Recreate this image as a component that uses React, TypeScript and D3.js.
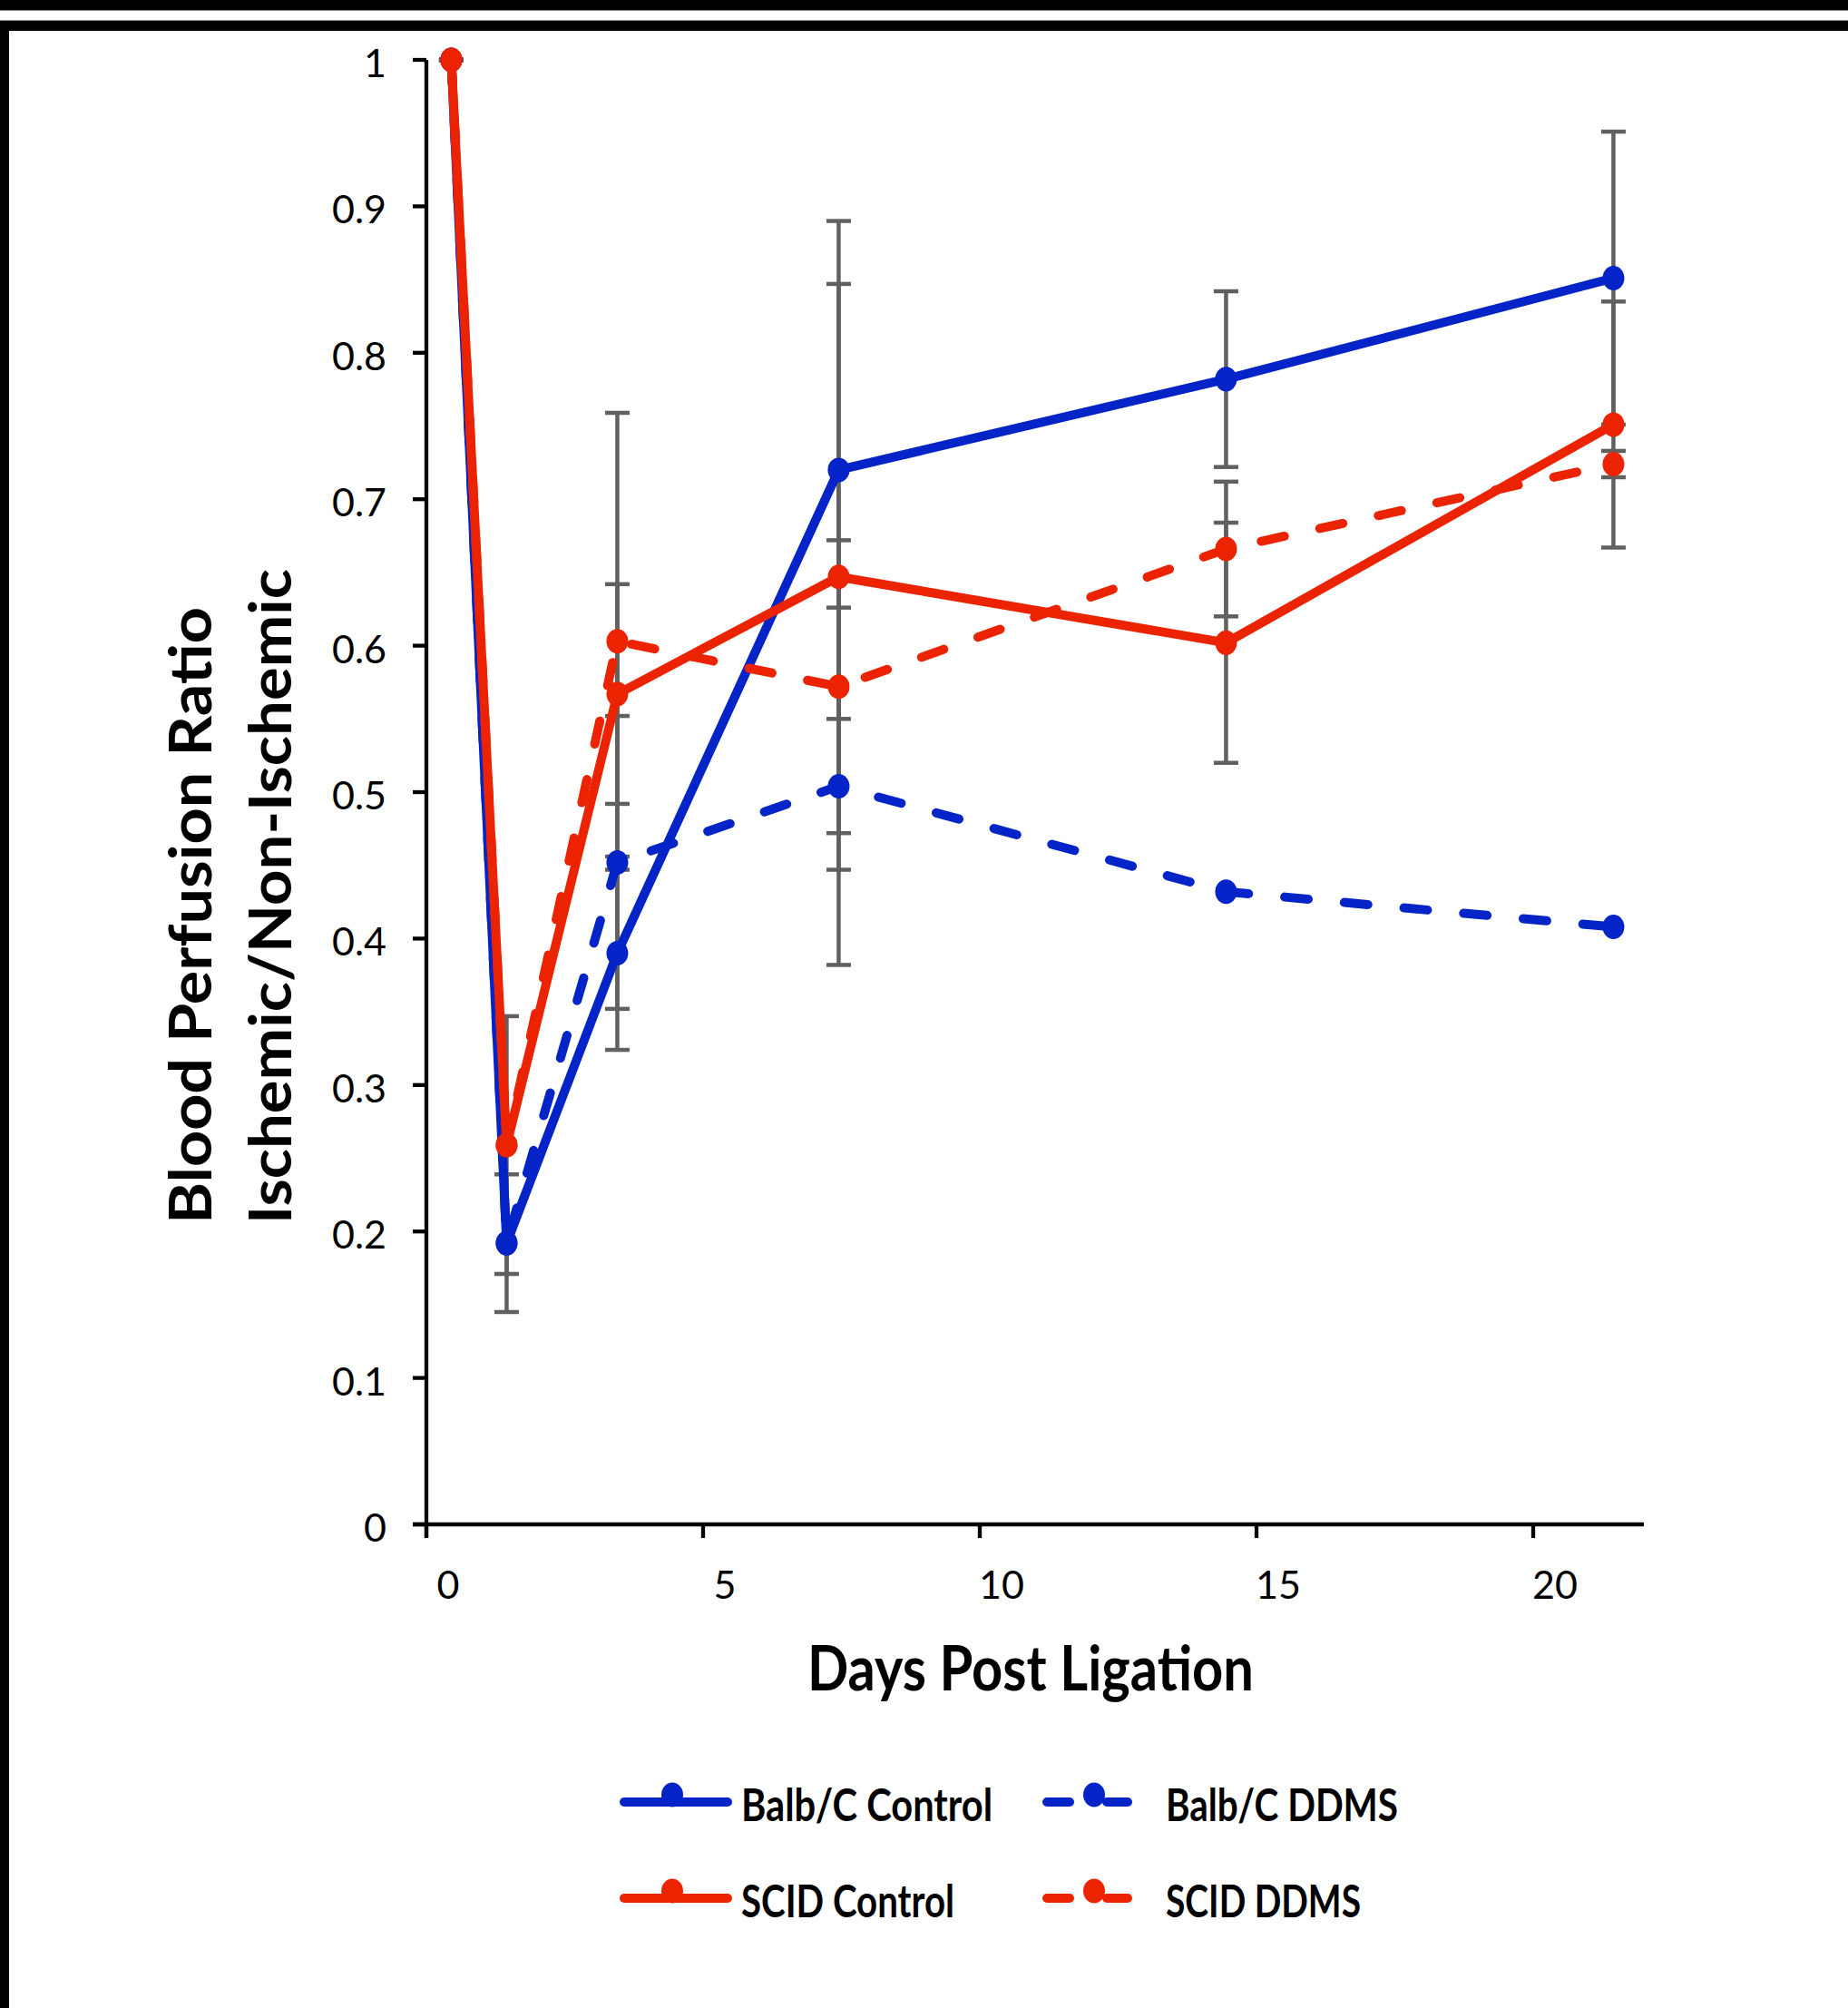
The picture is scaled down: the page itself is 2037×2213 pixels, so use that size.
import React from "react";
import * as d3 from "d3";

// ---- data ----
const days = [0.45, 1.45, 3.45, 7.45, 14.45, 21.45];
const balbControl = [1.0, 0.192, 0.39, 0.72, 0.782, 0.851];
const balbControlErr = [0, 0.047, 0.066, 0.17, 0.06, 0.1];
const balbDDMS = [1.0, 0.192, 0.452, 0.504, 0.432, 0.408];
const balbDDMSErr = [0, 0, 0.1, 0.122, 0, 0];
const scidControl = [1.0, 0.259, 0.567, 0.647, 0.602, 0.751];
const scidControlErr = [0, 0.088, 0.075, 0.2, 0.082, 0.084];
const scidDDMS = [1.0, 0.259, 0.603, 0.572, 0.666, 0.724];
const scidDDMSErr = [0, 0, 0.156, 0.1, 0.046, 0.009];

const xTicks = [0, 5, 10, 15, 20];
const yTicks = [0, 0.1, 0.2, 0.3, 0.4, 0.5, 0.6, 0.7, 0.8, 0.9, 1];
const xTitle = "Days Post Ligation";
const yTitle1 = "Blood Perfusion Ratio";
const yTitle2 = "Ischemic/Non-Ischemic";

const BLUE = "#0424C8";
const RED = "#EC2300";
const GRAY = "#606060";

const series = [
  { name: "Balb/C Control", values: balbControl, err: balbControlErr, color: BLUE, dashed: false },
  { name: "Balb/C DDMS", values: balbDDMS, err: balbDDMSErr, color: BLUE, dashed: true },
  { name: "SCID Control", values: scidControl, err: scidControlErr, color: RED, dashed: false },
  { name: "SCID DDMS", values: scidDDMS, err: scidDDMSErr, color: RED, dashed: true },
];

// legend text widths (compressed Calibri look)
const legendTextLen: Record<string, number> = {
  "Balb/C Control": 277,
  "Balb/C DDMS": 256,
  "SCID Control": 235,
  "SCID DDMS": 215,
};

export default function App() {
  const W = 2037;
  const H = 2213;
  const x = d3.scaleLinear().domain([0, 22]).range([470, 1812]);
  const y = d3.scaleLinear().domain([0, 1]).range([1680, 66]);
  const line = d3
    .line<number>()
    .x((_, i) => x(days[i]))
    .y((v) => y(v));
  const fmt = (v: number) => (v === 0 ? "0" : v === 1 ? "1" : d3.format(".1f")(v));
  const tickLen = 15;
  const capHalf = 13.5;
  const font = "Lato, 'Open Sans', sans-serif";

  const legendCols = [683, 1149];
  const legendRows = [1986, 2092];
  const legendTextX = [817, 1285];

  return (
    <svg
      width={W}
      height={H}
      style={{ position: "absolute", left: 0, top: 0 }}
      xmlns="http://www.w3.org/2000/svg"
    >
      <rect x={0} y={0} width={W} height={H} fill="#fff" />
      {/* frame bands */}
      <rect x={0} y={0} width={W} height={11} fill="#000" />
      <rect x={0} y={11} width={W} height={1} fill="#888" />
      <rect x={0} y={22} width={W} height={1} fill="#888" />
      <rect x={0} y={23} width={W} height={11} fill="#000" />
      <rect x={0} y={23} width={10} height={H - 23} fill="#000" />

      {/* axes */}
      <line x1={x(0)} x2={x(0)} y1={y(1)} y2={y(0) + tickLen} stroke="#000" strokeWidth={4.3} />
      <line x1={x(0) - tickLen} x2={x(22)} y1={y(0)} y2={y(0)} stroke="#000" strokeWidth={4.3} />
      {yTicks.map((t) => (
        <g key={"y" + t}>
          <line x1={x(0) - tickLen} x2={x(0)} y1={y(t)} y2={y(t)} stroke="#000" strokeWidth={4.3} />
          <text
            x={426}
            y={y(t) + 19}
            textAnchor="end"
            fontFamily={font}
            fontSize={43}
            fill="#000"
          >
            {fmt(t)}
          </text>
        </g>
      ))}
      {xTicks.map((t) => (
        <g key={"x" + t}>
          <line x1={x(t)} x2={x(t)} y1={y(0)} y2={y(0) + tickLen} stroke="#000" strokeWidth={4.3} />
          <text
            x={x(t) + 24}
            y={1762}
            textAnchor="middle"
            fontFamily={font}
            fontSize={43}
            fill="#000"
          >
            {t}
          </text>
        </g>
      ))}

      {/* axis titles */}
      <text
        x={1136}
        y={1863}
        textAnchor="middle"
        fontFamily={font}
        fontWeight={700}
        fontSize={68}
        textLength={492}
        lengthAdjust="spacingAndGlyphs"
        fill="#000"
      >
        {xTitle}
      </text>
      <text
        transform="translate(233,1349) rotate(-90)"
        textAnchor="start"
        fontFamily={font}
        fontWeight={700}
        fontSize={65}
        textLength={680}
        lengthAdjust="spacingAndGlyphs"
        fill="#000"
      >
        {yTitle1}
      </text>
      <text
        transform="translate(321,1349) rotate(-90)"
        textAnchor="start"
        fontFamily={font}
        fontWeight={700}
        fontSize={65}
        textLength={722}
        lengthAdjust="spacingAndGlyphs"
        fill="#000"
      >
        {yTitle2}
      </text>

      {/* error bars (a zero-length bar still shows its cap) */}
      {series.map((s) =>
        s.values.map((v, i) =>
          s.err[i] > 0 || i === 0 ? (
            <g key={s.name + "e" + i} stroke={GRAY} strokeWidth={4.5}>
              <line x1={x(days[i])} x2={x(days[i])} y1={y(v + s.err[i])} y2={y(v - s.err[i])} />
              <line
                x1={x(days[i]) - capHalf}
                x2={x(days[i]) + capHalf}
                y1={y(v + s.err[i])}
                y2={y(v + s.err[i])}
              />
              <line
                x1={x(days[i]) - capHalf}
                x2={x(days[i]) + capHalf}
                y1={y(v - s.err[i])}
                y2={y(v - s.err[i])}
              />
            </g>
          ) : null
        )
      )}

      {/* series lines and markers */}
      {series.map((s) => (
        <g key={s.name}>
          <path
            d={line(s.values) || ""}
            fill="none"
            stroke={s.color}
            strokeWidth={10}
            strokeLinejoin="round"
            strokeLinecap="round"
            strokeDasharray={s.dashed ? "26 40" : undefined}
          />
          {s.values.map((v, i) => (
            <ellipse key={i} cx={x(days[i])} cy={y(v)} rx={12} ry={13.5} fill={s.color} />
          ))}
        </g>
      ))}

      {/* legend */}
      {series.map((s, k) => {
        const col = k % 2;
        const row = Math.floor(k / 2);
        const lx = legendCols[col];
        const ly = legendRows[row];
        const len = 124;
        return (
          <g key={"leg" + s.name}>
            <line
              x1={lx + 5}
              x2={lx + len - 5 - (s.dashed ? 25 : 0)}
              y1={ly}
              y2={ly}
              stroke={s.color}
              strokeWidth={10}
              strokeLinecap="round"
              strokeDasharray={s.dashed ? "25 41" : undefined}
            />
            <ellipse cx={lx + (s.dashed ? 57 : 58)} cy={ly - 8} rx={12} ry={13.5} fill={s.color} />
            <text
              x={legendTextX[col]}
              y={ly + 21}
              fontFamily={font}
              fontWeight={700}
              fontSize={50}
              textLength={legendTextLen[s.name]}
              lengthAdjust="spacingAndGlyphs"
              fill="#000"
            >
              {s.name}
            </text>
          </g>
        );
      })}
    </svg>
  );
}
